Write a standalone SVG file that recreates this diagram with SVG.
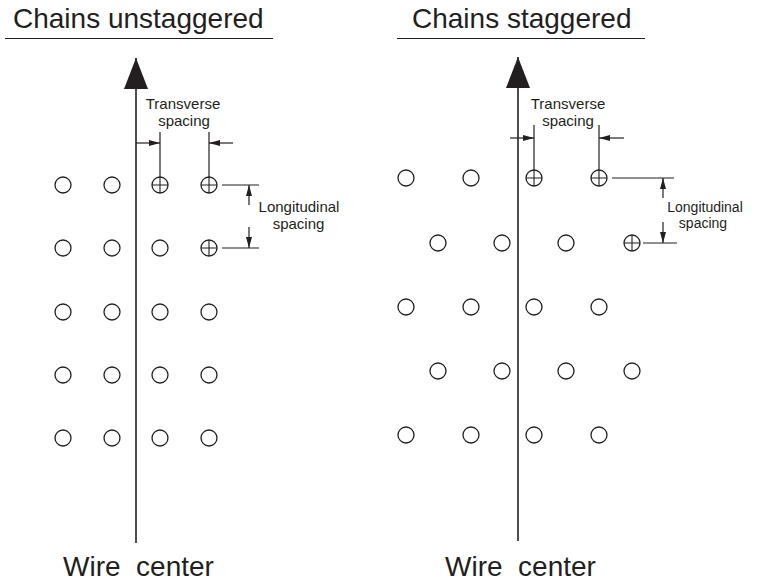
<svg xmlns="http://www.w3.org/2000/svg" width="758" height="584" viewBox="0 0 758 584">
<style>
.title{font-family:"Liberation Sans",Arial,sans-serif;font-size:28px;fill:#231f20}
.lbl{font-family:"Liberation Sans",Arial,sans-serif;font-size:15px;fill:#231f20}
.lbls{font-family:"Liberation Sans",Arial,sans-serif;font-size:14px;fill:#231f20}
.ln{stroke:#231f20;stroke-width:1.2;fill:none}
.wire{stroke:#3a3a3a;stroke-width:1.8;fill:none}
.c{stroke:#231f20;stroke-width:1.3;fill:#fff}
.x{stroke:#231f20;stroke-width:1.1}
</style>
<defs>
<marker id="ah" markerUnits="userSpaceOnUse" markerWidth="12" markerHeight="8" refX="11" refY="0" viewBox="0 -4 12 8" orient="auto">
<path d="M0,-3 L11,0 L0,3 Z" fill="#231f20"/>
</marker>
<marker id="big" markerUnits="userSpaceOnUse" markerWidth="32" markerHeight="26" refX="31" refY="0" viewBox="0 -13 32 26" orient="auto">
<path d="M0,-12 L31,0 L0,12 Z" fill="#231f20"/>
</marker>
<circle id="o" r="8" class="c"/>
<g id="ox"><circle r="8" class="c"/><path d="M-8,0 H8 M0,-8 V8" class="x"/></g>
</defs>
<rect width="758" height="584" fill="#fff"/>

<g id="titles">
<text class="title" x="13" y="28">Chains unstaggered</text>
<line x1="5" y1="38.5" x2="273" y2="38.5" class="ln" stroke-width="1.5"/>
<text class="title" x="412" y="28">Chains staggered</text>
<line x1="397" y1="38.5" x2="645" y2="38.5" class="ln" stroke-width="1.5"/>
<text class="title" x="63" y="576" xml:space="preserve">Wire  center</text>
<text class="title" x="445" y="576" xml:space="preserve">Wire  center</text>
</g>

<g id="connectors">
<line id="wire-left" x1="136" y1="543" x2="136" y2="58" class="wire" marker-end="url(#big)"/>
<line id="wire-right" x1="518" y1="541" x2="518" y2="57" class="wire" marker-end="url(#big)"/>
<line x1="160" y1="132" x2="160" y2="177" class="ln"/>
<line x1="209" y1="132" x2="209" y2="177" class="ln"/>
<line x1="136" y1="143" x2="160" y2="143" class="ln" marker-end="url(#ah)"/>
<line x1="233" y1="143" x2="209" y2="143" class="ln" marker-end="url(#ah)"/>
<line x1="222" y1="185" x2="259" y2="185" class="ln"/>
<line x1="222" y1="248" x2="259" y2="248" class="ln"/>
<line x1="249" y1="205" x2="249" y2="185" class="ln" marker-end="url(#ah)"/>
<line x1="249" y1="227" x2="249" y2="248" class="ln" marker-end="url(#ah)"/>
<line x1="534" y1="125" x2="534" y2="170" class="ln"/>
<line x1="599" y1="125" x2="599" y2="170" class="ln"/>
<line x1="510" y1="138" x2="534" y2="138" class="ln" marker-end="url(#ah)"/>
<line x1="624" y1="138" x2="599" y2="138" class="ln" marker-end="url(#ah)"/>
<line x1="612" y1="178" x2="674" y2="178" class="ln"/>
<line x1="643" y1="243" x2="677" y2="243" class="ln"/>
<line x1="663" y1="198" x2="663" y2="178" class="ln" marker-end="url(#ah)"/>
<line x1="663" y1="222" x2="663" y2="243" class="ln" marker-end="url(#ah)"/>
</g>

<g id="labels">
<text class="lbl" x="183" y="109" text-anchor="middle">Transverse</text>
<text class="lbl" x="184" y="126" text-anchor="middle">spacing</text>
<text class="lbl" x="299" y="212" text-anchor="middle">Longitudinal</text>
<text class="lbl" x="298.5" y="229" text-anchor="middle">spacing</text>
<text class="lbl" x="568" y="109" text-anchor="middle">Transverse</text>
<text class="lbl" x="568" y="126" text-anchor="middle">spacing</text>
<text class="lbls" x="705" y="212" text-anchor="middle">Longitudinal</text>
<text class="lbls" x="703" y="228" text-anchor="middle">spacing</text>
</g>

<g id="chains-unstaggered">
<g id="u-r1"><use href="#o" x="63" y="185"/><use href="#o" x="112" y="185"/><use href="#ox" x="160" y="185"/><use href="#ox" x="209" y="185"/></g>
<g id="u-r2"><use href="#o" x="63" y="248"/><use href="#o" x="112" y="248"/><use href="#o" x="160" y="248"/><use href="#ox" x="209" y="248"/></g>
<g id="u-r3"><use href="#o" x="63" y="312"/><use href="#o" x="112" y="312"/><use href="#o" x="160" y="312"/><use href="#o" x="209" y="312"/></g>
<g id="u-r4"><use href="#o" x="63" y="375"/><use href="#o" x="112" y="375"/><use href="#o" x="160" y="375"/><use href="#o" x="209" y="375"/></g>
<g id="u-r5"><use href="#o" x="63" y="438"/><use href="#o" x="112" y="438"/><use href="#o" x="160" y="438"/><use href="#o" x="209" y="438"/></g>
</g>

<g id="chains-staggered">
<g id="s-r1"><use href="#o" x="406" y="178"/><use href="#o" x="471" y="178"/><use href="#ox" x="534" y="178"/><use href="#ox" x="599" y="178"/></g>
<g id="s-r2"><use href="#o" x="438" y="243"/><use href="#o" x="502" y="243"/><use href="#o" x="566" y="243"/><use href="#ox" x="632" y="243"/></g>
<g id="s-r3"><use href="#o" x="406" y="307"/><use href="#o" x="471" y="307"/><use href="#o" x="534" y="307"/><use href="#o" x="599" y="307"/></g>
<g id="s-r4"><use href="#o" x="438" y="371"/><use href="#o" x="502" y="371"/><use href="#o" x="566" y="371"/><use href="#o" x="632" y="371"/></g>
<g id="s-r5"><use href="#o" x="406" y="435"/><use href="#o" x="471" y="435"/><use href="#o" x="534" y="435"/><use href="#o" x="599" y="435"/></g>
</g>
</svg>
